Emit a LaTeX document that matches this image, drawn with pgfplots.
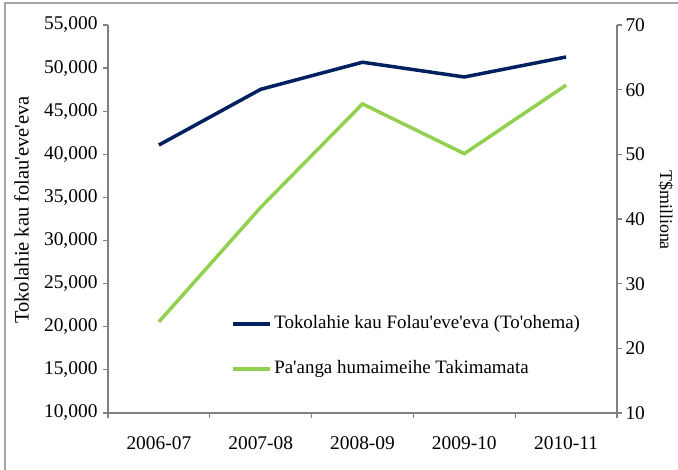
\documentclass[border=0pt]{standalone}
\usepackage{pgfplots}
\pgfplotsset{compat=1.18}
\usepackage{fontspec}
\setmainfont{Liberation Serif}
\newcommand{\q}{\textquotesingle}
\definecolor{navyline}{RGB}{0,32,96}
\definecolor{greenline}{RGB}{146,208,80}
\definecolor{axgray}{RGB}{128,128,128}
\definecolor{framegray}{RGB}{166,166,166}
\begin{document}
\begin{tikzpicture}[x=1bp,y=1bp]
\useasboundingbox (0,0) rectangle (678,470);
\draw[framegray, line width=1.5bp] (5,0) -- (5,467) -- (678,467);
\begin{axis}[
  at={(108bp,57bp)}, anchor=south west,
  width=509bp, height=388bp, scale only axis,
  xmin=0.5, xmax=5.5,
  ymin=10000, ymax=55000,
  axis x line*=bottom, axis y line*=left,
  axis line style={axgray, line width=1.5bp},
  xtick={1,2,3,4,5},
  xticklabels={2006-07,2007-08,2008-09,2009-10,2010-11},
  major x tick style={draw=none},
  minor xtick={0.5,1.5,2.5,3.5,4.5,5.5},
  minor x tick style={axgray, line width=1.2bp},
  minor tick length=5bp,
  ytick={10000,15000,...,55000},
  major tick length=5bp,
  tick align=outside,
  y tick style={axgray, line width=1.2bp},
  scaled y ticks=false,
  /pgf/number format/.cd, 1000 sep={,}, assume math mode=true,
  /pgfplots/.cd,
  tick label style={font=\fontsize{19.5}{22}\selectfont, black},
  xticklabel style={yshift=-15bp},
  yticklabel style={xshift=-2bp},
  ylabel={Tokolahie kau folau\q eve\q eva},
  ylabel style={font=\fontsize{20.5}{22}\selectfont, at={(rel axis cs:-0.17,0.523)}, anchor=center},
  legend style={draw=none, fill=none, at={(rel axis cs:0.235,0.2565)}, anchor=north west,
    font=\fontsize{19}{22}\selectfont, row sep=28bp,
    nodes={inner xsep=3bp, inner ysep=0pt, text height=13bp, text depth=4bp}},
  legend cell align=left,
  legend image code/.code={\draw[#1] (0bp,0bp) -- (37bp,0bp);},
]
\addplot[navyline, line width=3.5bp] coordinates {(1,41080) (2,47540) (3,50680) (4,48970) (5,51290)};
\addlegendentry{Tokolahie kau Folau\q eve\q eva (To\q ohema)}
\addlegendimage{greenline, line width=3.5bp}
\addlegendentry{Pa\q anga humaimeihe Takimamata}
\end{axis}
\begin{axis}[
  at={(108bp,57bp)}, anchor=south west,
  width=509bp, height=388bp, scale only axis,
  xmin=0.5, xmax=5.5,
  ymin=10, ymax=70,
  axis x line=none, axis y line*=right,
  axis line style={axgray, line width=1.5bp},
  ytick={10,20,...,70},
  major tick length=5bp,
  tick align=outside,
  y tick style={axgray, line width=1.2bp},
  /pgf/number format/.cd, assume math mode=true,
  /pgfplots/.cd,
  tick label style={font=\fontsize{19.5}{22}\selectfont, black},
  ylabel={T\$milliona},
  ylabel style={font=\fontsize{18}{22}\selectfont, at={(rel axis cs:1.096,0.523)}, anchor=center, rotate=180},
]
\addplot[greenline, line width=3.5bp] coordinates {(1,24.1) (2,41.8) (3,57.8) (4,50.1) (5,60.7)};
\end{axis}
\end{tikzpicture}
\end{document}
